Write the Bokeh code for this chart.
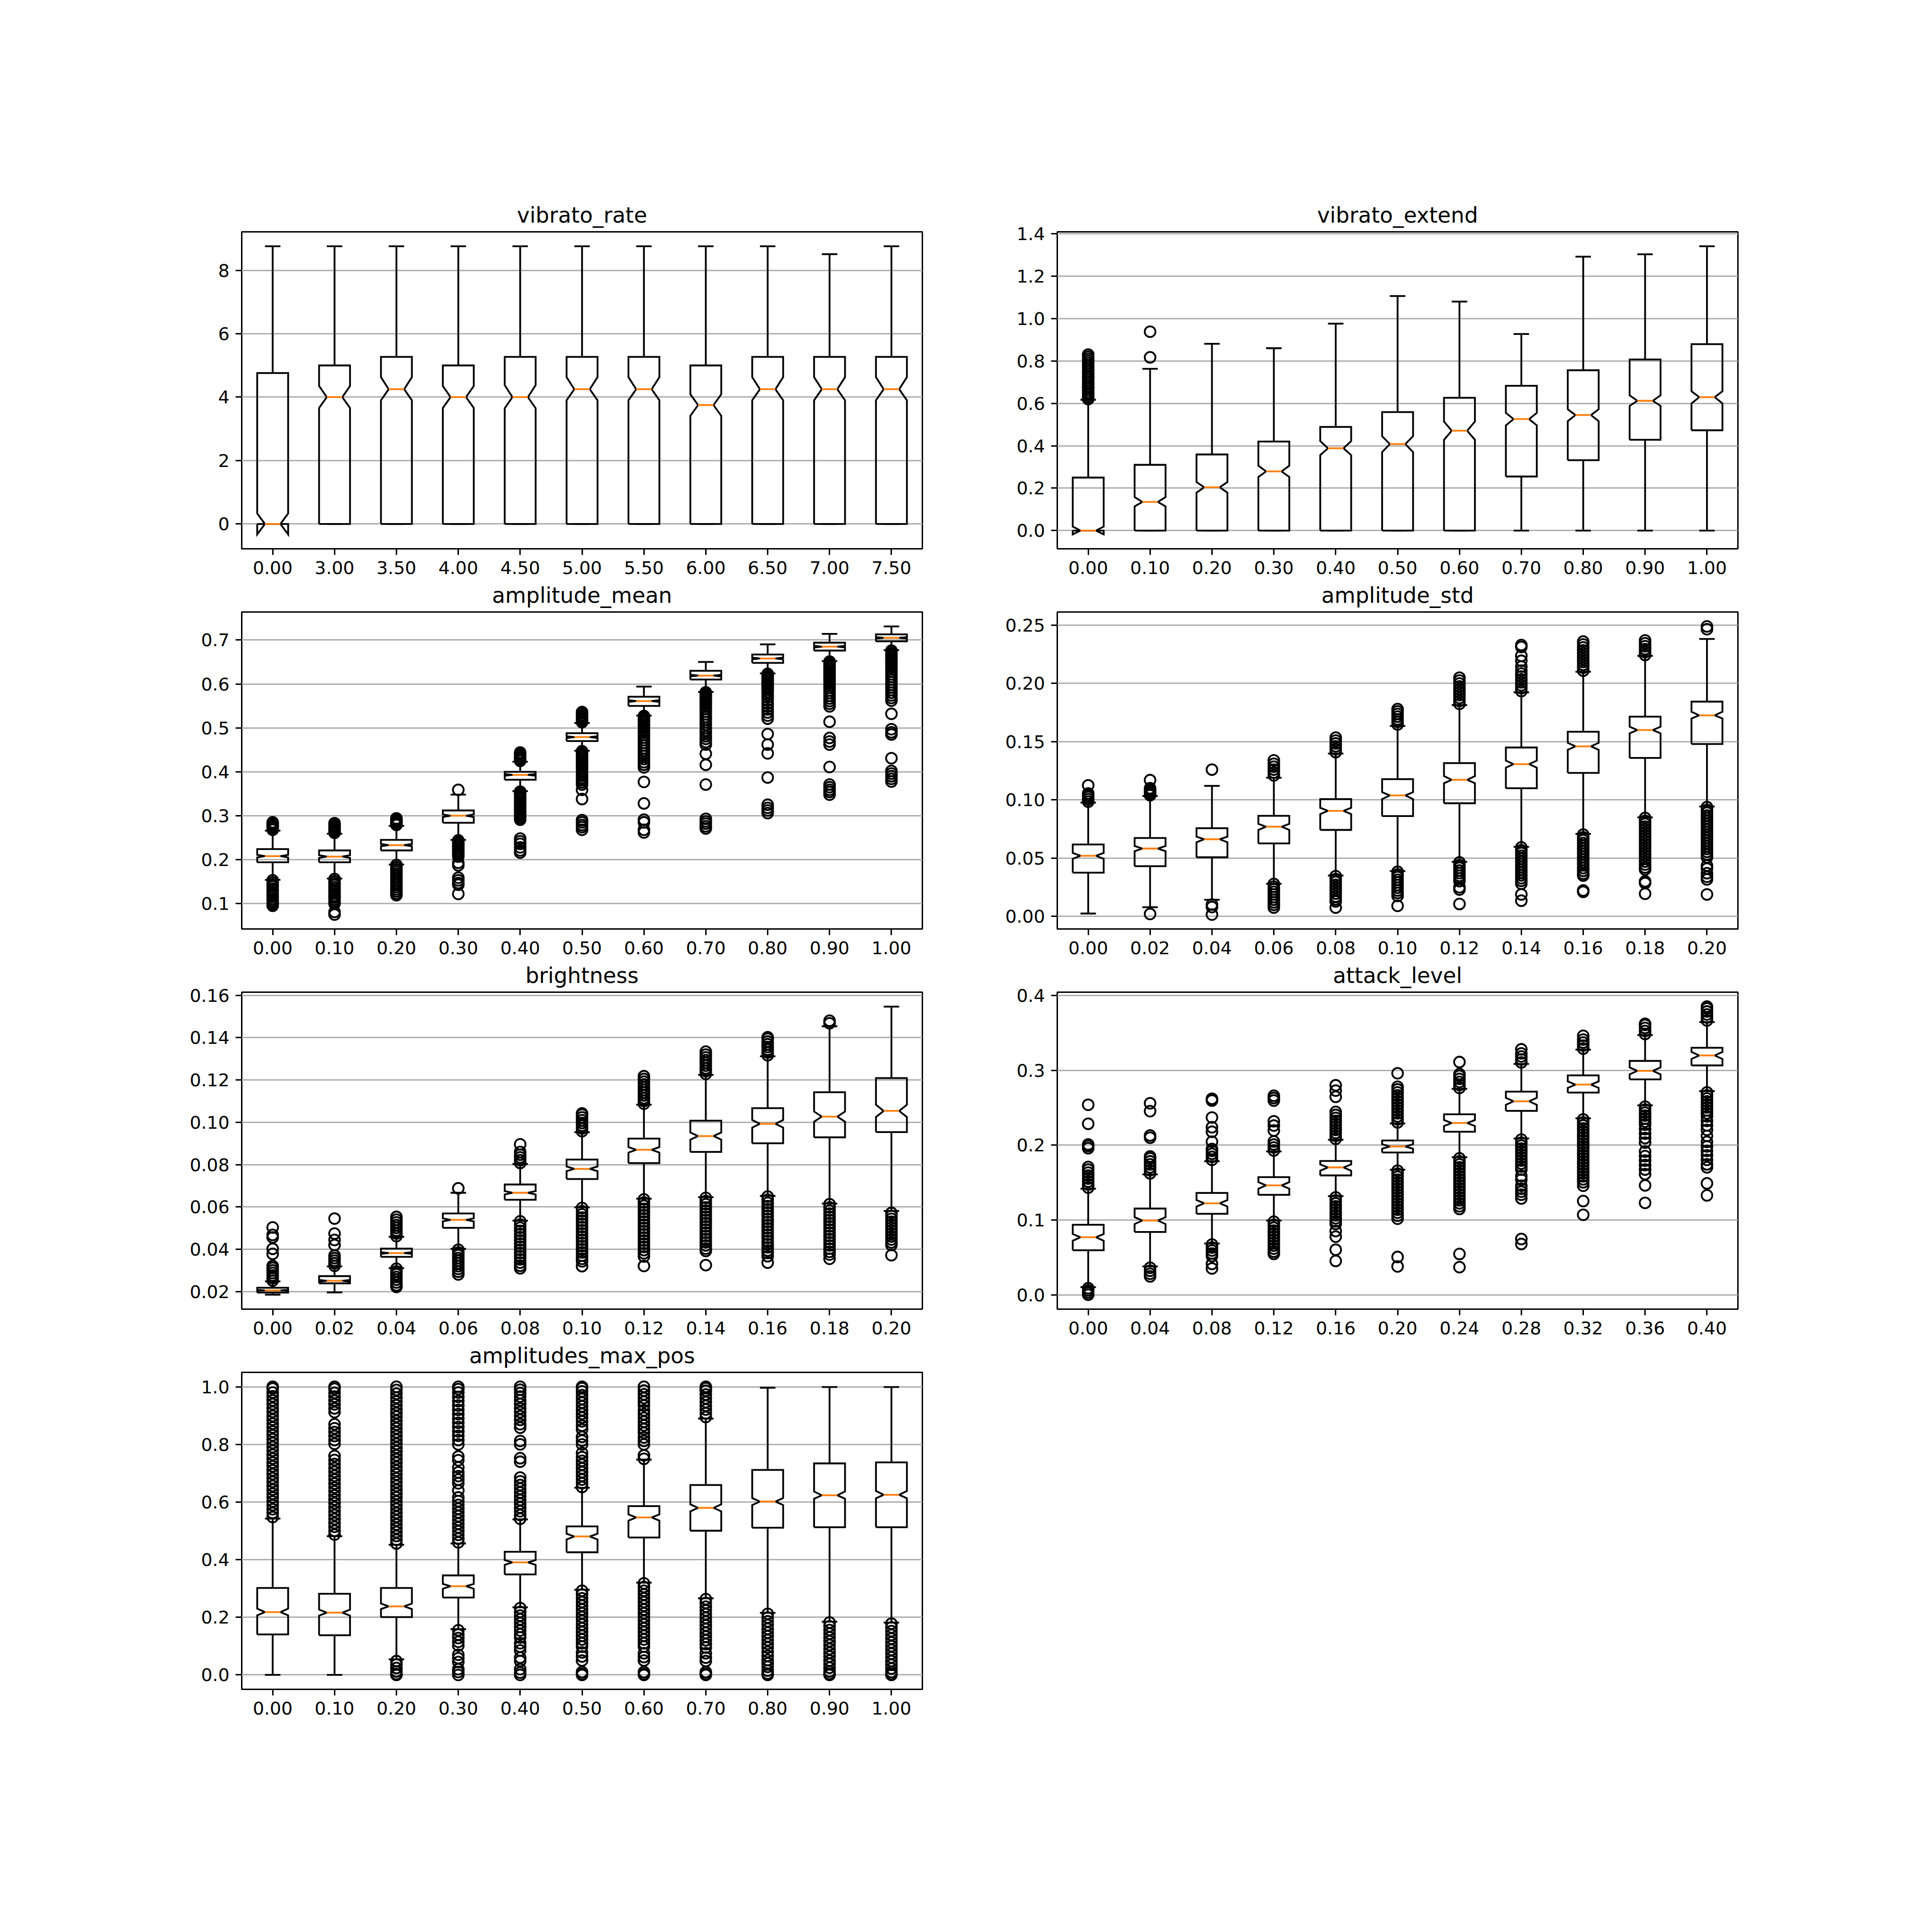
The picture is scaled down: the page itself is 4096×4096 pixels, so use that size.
from bokeh.plotting import figure
from bokeh.layouts import column, row, Spacer
from bokeh.models import FixedTicker, PrintfTickFormatter, Range1d
from bokeh.embed import file_html
from bokeh.resources import INLINE

# ---------------- data ----------------
# 1. vibrato_rate
rate_labels = ["0.00", "3.00", "3.50", "4.00", "4.50", "5.00", "5.50", "6.00", "6.50", "7.00", "7.50"]
rate_q1 = [0, 0, 0, 0, 0, 0, 0, 0, 0, 0, 0]
rate_med = [0.0, 4.0, 4.25, 4.0, 4.0, 4.25, 4.25, 3.75, 4.25, 4.25, 4.25]
rate_q3 = [4.76, 5.0, 5.27, 5.0, 5.27, 5.27, 5.27, 5.0, 5.27, 5.27, 5.27]
rate_nlo = [-0.33, 3.66, 3.90, 3.66, 3.65, 3.90, 3.90, 3.41, 3.90, 3.90, 3.90]
rate_nhi = [0.33, 4.35, 4.63, 4.35, 4.38, 4.63, 4.63, 4.09, 4.63, 4.63, 4.63]
rate_wlo = [0, 0, 0, 0, 0, 0, 0, 0, 0, 0, 0]
rate_whi = [8.76, 8.76, 8.76, 8.76, 8.76, 8.76, 8.76, 8.76, 8.76, 8.51, 8.76]
rate_fliers = [[], [], [], [], [], [], [], [], [], [], []]
rate_yticks = [0, 2, 4, 6, 8]

# 2. vibrato_extend
ext_labels = ["0.00", "0.10", "0.20", "0.30", "0.40", "0.50", "0.60", "0.70", "0.80", "0.90", "1.00"]
ext_q1 = [0, 0, 0, 0, 0, 0, 0, 0.255, 0.332, 0.428, 0.473]
ext_med = [0.0, 0.135, 0.204, 0.279, 0.388, 0.408, 0.471, 0.526, 0.545, 0.612, 0.629]
ext_q3 = [0.250, 0.310, 0.359, 0.420, 0.489, 0.559, 0.626, 0.683, 0.756, 0.807, 0.879]
ext_nlo = [-0.018, 0.114, 0.179, 0.253, 0.356, 0.370, 0.428, 0.496, 0.516, 0.588, 0.600]
ext_nhi = [0.019, 0.158, 0.229, 0.306, 0.422, 0.445, 0.514, 0.555, 0.572, 0.638, 0.657]
ext_wlo = [0, 0, 0, 0, 0, 0, 0, 0, 0, 0, 0]
ext_whi = [0.617, 0.763, 0.881, 0.860, 0.976, 1.106, 1.080, 0.927, 1.292, 1.303, 1.341]
ext_fliers = [
    [0.62, 0.625, 0.63, 0.64, 0.645, 0.65, 0.66, 0.67, 0.675, 0.68, 0.69, 0.70, 0.71, 0.72, 0.725,
     0.73, 0.74, 0.75, 0.76, 0.77, 0.78, 0.79, 0.80, 0.81, 0.82, 0.83],
    [0.817, 0.938], [], [], [], [], [], [], [], [], []]
ext_yticks = [0.0, 0.2, 0.4, 0.6, 0.8, 1.0, 1.2, 1.4]

# 3. amplitude_mean
am_labels = ["0.00", "0.10", "0.20", "0.30", "0.40", "0.50", "0.60", "0.70", "0.80", "0.90", "1.00"]
am_q1 = [0.194, 0.194, 0.221, 0.284, 0.382, 0.470, 0.550, 0.610, 0.648, 0.676, 0.697]
am_med = [0.208, 0.207, 0.233, 0.300, 0.393, 0.479, 0.561, 0.619, 0.658, 0.685, 0.705]
am_q3 = [0.224, 0.221, 0.245, 0.312, 0.400, 0.488, 0.571, 0.630, 0.667, 0.694, 0.713]
am_nlo = [0.205, 0.204, 0.2305, 0.297, 0.391, 0.477, 0.559, 0.617, 0.656, 0.683, 0.7035]
am_nhi = [0.211, 0.210, 0.2355, 0.303, 0.395, 0.481, 0.563, 0.621, 0.660, 0.687, 0.7065]
am_wlo = [0.154, 0.157, 0.189, 0.245, 0.356, 0.448, 0.528, 0.582, 0.624, 0.652, 0.677]
am_whi = [0.266, 0.259, 0.277, 0.348, 0.423, 0.511, 0.594, 0.650, 0.690, 0.714, 0.731]
am_fliers = [
    [0.268, 0.271, 0.273, 0.275, 0.277, 0.279, 0.281, 0.283, 0.285,
     0.153, 0.148, 0.143, 0.139, 0.134, 0.130, 0.125, 0.120, 0.116, 0.111, 0.107, 0.103, 0.099, 0.095],
    [0.261, 0.264, 0.267, 0.270, 0.273, 0.276, 0.279, 0.283,
     0.156, 0.151, 0.146, 0.142, 0.137, 0.132, 0.128, 0.123, 0.118, 0.114, 0.109, 0.104, 0.100, 0.081, 0.075],
    [0.279, 0.282, 0.285, 0.288, 0.291, 0.294,
     0.188, 0.183, 0.178, 0.173, 0.168, 0.163, 0.158, 0.153, 0.148, 0.143, 0.138, 0.133, 0.128, 0.123, 0.119],
    [0.359, 0.244, 0.240, 0.236, 0.232, 0.228, 0.224, 0.220, 0.216, 0.212, 0.207, 0.193, 0.187,
     0.159, 0.153, 0.147, 0.143, 0.122],
    [0.425, 0.428, 0.431, 0.434, 0.437, 0.441, 0.444,
     0.355, 0.351, 0.347, 0.343, 0.339, 0.335, 0.331, 0.327, 0.323, 0.319, 0.315, 0.311, 0.307, 0.303,
     0.299, 0.295, 0.291, 0.248, 0.242, 0.236, 0.228, 0.221, 0.216],
    [0.513, 0.517, 0.521, 0.525, 0.529, 0.533, 0.536,
     0.447, 0.443, 0.439, 0.435, 0.431, 0.427, 0.423, 0.419, 0.415, 0.411, 0.406, 0.401, 0.396, 0.391,
     0.386, 0.381, 0.376, 0.371, 0.359, 0.338, 0.290, 0.285, 0.279, 0.274, 0.268],
    [0.527, 0.523, 0.519, 0.515, 0.511, 0.507, 0.503, 0.499, 0.494, 0.489, 0.484, 0.478, 0.472, 0.466,
     0.460, 0.454, 0.448, 0.442, 0.436, 0.429, 0.422, 0.416, 0.410, 0.377, 0.328, 0.291, 0.285, 0.268, 0.262],
    [0.581, 0.577, 0.573, 0.569, 0.565, 0.561, 0.557, 0.553, 0.548, 0.543, 0.537, 0.531, 0.525, 0.519,
     0.513, 0.507, 0.500, 0.494, 0.488, 0.481, 0.475, 0.468, 0.462, 0.441, 0.416, 0.371,
     0.293, 0.287, 0.282, 0.276, 0.271],
    [0.623, 0.619, 0.615, 0.611, 0.607, 0.603, 0.599, 0.595, 0.591, 0.587, 0.582, 0.576, 0.570, 0.563,
     0.556, 0.549, 0.542, 0.535, 0.528, 0.521, 0.486, 0.462, 0.442, 0.387, 0.325, 0.318, 0.312, 0.306],
    [0.651, 0.647, 0.643, 0.639, 0.635, 0.631, 0.627, 0.623, 0.619, 0.615, 0.611, 0.606, 0.601, 0.596,
     0.591, 0.585, 0.579, 0.573, 0.567, 0.561, 0.555, 0.549, 0.514, 0.477, 0.469, 0.462, 0.411,
     0.371, 0.365, 0.359, 0.354, 0.348],
    [0.676, 0.672, 0.668, 0.664, 0.660, 0.656, 0.652, 0.648, 0.643, 0.638, 0.633, 0.628, 0.622, 0.616,
     0.610, 0.604, 0.598, 0.592, 0.586, 0.580, 0.574, 0.568, 0.562, 0.532, 0.497, 0.490, 0.485, 0.431,
     0.402, 0.396, 0.390, 0.384, 0.378]]
am_yticks = [0.1, 0.2, 0.3, 0.4, 0.5, 0.6, 0.7]

# 4. amplitude_std
as_labels = ["0.00", "0.02", "0.04", "0.06", "0.08", "0.10", "0.12", "0.14", "0.16", "0.18", "0.20"]
as_q1 = [0.0375, 0.0431, 0.0507, 0.0626, 0.0742, 0.0861, 0.0971, 0.1100, 0.1232, 0.1360, 0.1480]
as_med = [0.0520, 0.0582, 0.0662, 0.0770, 0.0906, 0.1038, 0.1173, 0.1307, 0.1460, 0.1600, 0.1726]
as_q3 = [0.0617, 0.0673, 0.0757, 0.0863, 0.1007, 0.1178, 0.1316, 0.1450, 0.1585, 0.1715, 0.1844]
as_nlo = [0.0494, 0.0559, 0.0636, 0.0742, 0.0878, 0.1007, 0.1143, 0.1277, 0.1430, 0.1572, 0.1699]
as_nhi = [0.0544, 0.0604, 0.0684, 0.0794, 0.0932, 0.1066, 0.1204, 0.1337, 0.1490, 0.1628, 0.1757]
as_wlo = [0.0024, 0.0078, 0.0142, 0.0280, 0.0350, 0.0388, 0.0468, 0.0597, 0.0708, 0.0850, 0.0943]
as_whi = [0.0977, 0.1033, 0.1120, 0.1190, 0.1398, 0.1635, 0.1814, 0.1924, 0.2101, 0.2237, 0.2382]
as_fliers = [
    [0.0985, 0.1005, 0.1025, 0.104, 0.1055, 0.1125],
    [0.104, 0.1055, 0.107, 0.1085, 0.110, 0.117, 0.002],
    [0.126, 0.0101, 0.008, 0.0015],
    [0.121, 0.1235, 0.126, 0.1285, 0.131, 0.134,
     0.0278, 0.0255, 0.0232, 0.021, 0.0188, 0.0165, 0.0142, 0.012, 0.0098, 0.0075],
    [0.141, 0.1435, 0.146, 0.1485, 0.151, 0.1535,
     0.0345, 0.032, 0.0295, 0.027, 0.0245, 0.022, 0.0195, 0.017, 0.0145, 0.0128, 0.0075],
    [0.1648, 0.167, 0.1692, 0.1715, 0.1738, 0.176, 0.178,
     0.0383, 0.036, 0.0337, 0.0314, 0.0291, 0.0268, 0.0245, 0.0222, 0.020, 0.0175, 0.009],
    [0.1825, 0.185, 0.1875, 0.190, 0.1925, 0.195, 0.1975, 0.200, 0.2025, 0.205,
     0.0463, 0.044, 0.0417, 0.0394, 0.0371, 0.0348, 0.0325, 0.0302, 0.025, 0.023, 0.0106],
    [0.1935, 0.196, 0.1985, 0.201, 0.2035, 0.206, 0.2085, 0.211, 0.2145, 0.2195, 0.2237, 0.2313, 0.233,
     0.0592, 0.0568, 0.0544, 0.052, 0.0496, 0.0472, 0.0448, 0.0424, 0.040, 0.0376, 0.0352, 0.0328,
     0.0305, 0.028, 0.0188, 0.0134],
    [0.211, 0.2135, 0.216, 0.2185, 0.221, 0.2235, 0.226, 0.2285, 0.231, 0.2335, 0.236,
     0.0702, 0.0678, 0.0654, 0.063, 0.0606, 0.0582, 0.0558, 0.0534, 0.051, 0.0486, 0.0462, 0.0438,
     0.0414, 0.039, 0.0366, 0.035, 0.0222, 0.021],
    [0.2245, 0.227, 0.2295, 0.232, 0.2345, 0.237,
     0.0845, 0.082, 0.0795, 0.077, 0.0745, 0.072, 0.0695, 0.067, 0.0645, 0.062, 0.0595, 0.057, 0.0545,
     0.052, 0.0495, 0.047, 0.0445, 0.042, 0.0402, 0.030, 0.0285, 0.0194],
    [0.2466, 0.249,
     0.0938, 0.0914, 0.089, 0.0866, 0.0842, 0.0818, 0.0794, 0.077, 0.0746, 0.0722, 0.0698, 0.0674,
     0.065, 0.0626, 0.0602, 0.0578, 0.0554, 0.053, 0.0506, 0.0436, 0.041, 0.037, 0.034, 0.0317, 0.0188]]
as_yticks = [0.0, 0.05, 0.10, 0.15, 0.20, 0.25]

# 5. brightness
br_labels = ["0.00", "0.02", "0.04", "0.06", "0.08", "0.10", "0.12", "0.14", "0.16", "0.18", "0.20"]
br_q1 = [0.0195, 0.0239, 0.0364, 0.0501, 0.0634, 0.0732, 0.0807, 0.0860, 0.0901, 0.0929, 0.0954]
br_med = [0.0206, 0.0251, 0.0382, 0.0539, 0.0667, 0.0780, 0.0870, 0.0935, 0.0993, 0.1027, 0.1054]
br_q3 = [0.0218, 0.0273, 0.0403, 0.0569, 0.0706, 0.0824, 0.0923, 0.1008, 0.1067, 0.1142, 0.1209]
br_nlo = [0.0204, 0.0247, 0.0378, 0.0532, 0.0659, 0.0769, 0.0857, 0.0918, 0.0975, 0.1003, 0.1025]
br_nhi = [0.0208, 0.0255, 0.0386, 0.0546, 0.0675, 0.0791, 0.0883, 0.0952, 0.1011, 0.1051, 0.1083]
br_wlo = [0.0185, 0.0196, 0.0311, 0.0402, 0.0535, 0.0598, 0.0639, 0.0646, 0.0652, 0.0616, 0.0581]
br_whi = [0.0248, 0.0319, 0.0459, 0.0667, 0.0803, 0.0953, 0.1083, 0.1224, 0.1312, 0.1454, 0.1547]
br_fliers = [
    [0.0252, 0.0264, 0.0276, 0.0288, 0.0300, 0.0312, 0.0321, 0.0378, 0.0402, 0.0456, 0.0468, 0.0503],
    [0.0322, 0.0334, 0.0346, 0.0358, 0.037, 0.042, 0.0444, 0.0474, 0.0545],
    [0.0462, 0.0475, 0.0488, 0.0501, 0.0514, 0.0527, 0.054, 0.0553,
     0.0308, 0.0295, 0.0282, 0.0269, 0.0256, 0.0243, 0.023, 0.0222],
    [0.0688, 0.0398, 0.0385, 0.0372, 0.0359, 0.0346, 0.0333, 0.032, 0.0307, 0.0294, 0.0281],
    [0.0808, 0.0821, 0.0834, 0.0847, 0.086, 0.0896,
     0.0532, 0.0517, 0.0502, 0.0487, 0.0472, 0.0457, 0.0442, 0.0427, 0.0412, 0.0397, 0.0382, 0.0367,
     0.0352, 0.0337, 0.0322, 0.031],
    [0.0958, 0.0971, 0.0984, 0.0997, 0.101, 0.1023, 0.1036, 0.1042,
     0.0595, 0.058, 0.0565, 0.055, 0.0535, 0.052, 0.0505, 0.049, 0.0475, 0.046, 0.0445, 0.043, 0.0415,
     0.04, 0.0385, 0.037, 0.0355, 0.0343, 0.032],
    [0.1088, 0.1101, 0.1114, 0.1127, 0.114, 0.1153, 0.1166, 0.1179, 0.1192, 0.1205, 0.1218,
     0.0636, 0.0621, 0.0606, 0.0591, 0.0576, 0.0561, 0.0546, 0.0531, 0.0516, 0.0501, 0.0486, 0.0471,
     0.0456, 0.0441, 0.0426, 0.0411, 0.0396, 0.0381, 0.0366, 0.0321],
    [0.1229, 0.1242, 0.1255, 0.1268, 0.1281, 0.1294, 0.1307, 0.132, 0.1334,
     0.0643, 0.0628, 0.0613, 0.0598, 0.0583, 0.0568, 0.0553, 0.0538, 0.0523, 0.0508, 0.0493, 0.0478,
     0.0463, 0.0448, 0.0433, 0.0418, 0.0403, 0.0392, 0.0325],
    [0.1317, 0.133, 0.1343, 0.1356, 0.1369, 0.1382, 0.1395, 0.1402,
     0.0649, 0.0634, 0.0619, 0.0604, 0.0589, 0.0574, 0.0559, 0.0544, 0.0529, 0.0514, 0.0499, 0.0484,
     0.0469, 0.0454, 0.0439, 0.0424, 0.0409, 0.0394, 0.0382, 0.0367, 0.0337],
    [0.1468, 0.148,
     0.0613, 0.0598, 0.0583, 0.0568, 0.0553, 0.0538, 0.0523, 0.0508, 0.0493, 0.0478, 0.0463, 0.0448,
     0.0433, 0.0418, 0.0403, 0.0388, 0.0375, 0.0355],
    [0.0572, 0.0558, 0.0544, 0.053, 0.0516, 0.0502, 0.0488, 0.0474, 0.046, 0.0446, 0.0432, 0.042, 0.0372]]
br_yticks = [0.02, 0.04, 0.06, 0.08, 0.10, 0.12, 0.14, 0.16]

# 6. attack_level
al_labels = ["0.00", "0.04", "0.08", "0.12", "0.16", "0.20", "0.24", "0.28", "0.32", "0.36", "0.40"]
al_q1 = [0.0599, 0.0842, 0.1085, 0.1338, 0.1597, 0.1903, 0.2180, 0.2459, 0.2702, 0.2879, 0.3065]
al_med = [0.0772, 0.0995, 0.1225, 0.1464, 0.1704, 0.1983, 0.2296, 0.2586, 0.2809, 0.2992, 0.3198]
al_q3 = [0.0938, 0.1155, 0.1364, 0.1574, 0.1790, 0.2063, 0.2413, 0.2715, 0.2932, 0.3125, 0.3301]
al_nlo = [0.0725, 0.0948, 0.1181, 0.1420, 0.1660, 0.1953, 0.2256, 0.2539, 0.2765, 0.2945, 0.3151]
al_nhi = [0.0815, 0.1040, 0.1268, 0.1507, 0.1744, 0.2013, 0.2336, 0.2632, 0.2852, 0.3038, 0.3245]
al_wlo = [0.0106, 0.0383, 0.0689, 0.0995, 0.1321, 0.1674, 0.1840, 0.2090, 0.2360, 0.2532, 0.2722]
al_whi = [0.1420, 0.1610, 0.1787, 0.1917, 0.2073, 0.2290, 0.2752, 0.3085, 0.3275, 0.3470, 0.3644]
al_fliers = [
    [0.1435, 0.1475, 0.1515, 0.1555, 0.1595, 0.1635, 0.1675, 0.171, 0.196, 0.199, 0.201, 0.2286, 0.254,
     0.0092, 0.0062, 0.0032, 0.0005],
    [0.1625, 0.1665, 0.1705, 0.1745, 0.1785, 0.1825, 0.185, 0.21, 0.213, 0.2455, 0.256,
     0.0365, 0.0325, 0.0285, 0.025],
    [0.1805, 0.1845, 0.1885, 0.1925, 0.195, 0.2047, 0.218, 0.224, 0.237, 0.2596, 0.262,
     0.0675, 0.0635, 0.0595, 0.0555, 0.052, 0.0416, 0.0356],
    [0.193, 0.197, 0.201, 0.205, 0.2196, 0.2263, 0.232, 0.2596, 0.263, 0.266,
     0.098, 0.094, 0.090, 0.086, 0.082, 0.078, 0.074, 0.070, 0.066, 0.062, 0.058, 0.055],
    [0.2085, 0.2125, 0.2165, 0.2205, 0.2245, 0.2285, 0.2325, 0.2365, 0.2405, 0.2445, 0.2646, 0.2729, 0.280,
     0.1305, 0.1265, 0.1225, 0.1185, 0.1145, 0.1105, 0.1065, 0.1025, 0.0985, 0.095, 0.0855, 0.078,
     0.0606, 0.0456],
    [0.2305, 0.2345, 0.2385, 0.2425, 0.2465, 0.2505, 0.2545, 0.2585, 0.2625, 0.2665, 0.2705, 0.2745,
     0.278, 0.296,
     0.166, 0.162, 0.158, 0.154, 0.150, 0.146, 0.142, 0.138, 0.134, 0.130, 0.126, 0.122, 0.118, 0.114,
     0.110, 0.106, 0.102, 0.0509, 0.0383],
    [0.2765, 0.2805, 0.2845, 0.2885, 0.2925, 0.295, 0.311,
     0.1825, 0.1785, 0.1745, 0.1705, 0.1665, 0.1625, 0.1585, 0.1545, 0.1505, 0.1465, 0.1425, 0.1385,
     0.1345, 0.1305, 0.1265, 0.1225, 0.1185, 0.115, 0.0549, 0.0373],
    [0.3105, 0.3145, 0.3185, 0.3225, 0.328,
     0.2075, 0.2035, 0.1995, 0.1955, 0.1915, 0.1875, 0.1835, 0.1795, 0.1755, 0.1715, 0.1675, 0.159,
     0.154, 0.146, 0.142, 0.138, 0.134, 0.129, 0.0749, 0.0682],
    [0.329, 0.333, 0.337, 0.341, 0.346,
     0.2345, 0.2305, 0.2265, 0.2225, 0.2185, 0.2145, 0.2105, 0.2065, 0.2025, 0.1985, 0.1945, 0.1905,
     0.1865, 0.1825, 0.1785, 0.1745, 0.1705, 0.1665, 0.1625, 0.1585, 0.1545, 0.1505, 0.146, 0.1255, 0.1072],
    [0.3485, 0.3525, 0.3565, 0.3605, 0.362,
     0.2515, 0.2475, 0.2435, 0.2395, 0.2355, 0.2315, 0.2275, 0.2215, 0.2155, 0.2095, 0.2035, 0.1915,
     0.1855, 0.1795, 0.1735, 0.1675, 0.1615, 0.1464, 0.1231],
    [0.3665, 0.3705, 0.3745, 0.3785, 0.3825, 0.385,
     0.2705, 0.2665, 0.2625, 0.2585, 0.2545, 0.2505, 0.2465, 0.2425, 0.2385, 0.2325, 0.2265, 0.2205,
     0.2125, 0.2045, 0.1985, 0.1925, 0.1865, 0.1805, 0.1745, 0.1705, 0.1491, 0.1331]]
al_yticks = [0.0, 0.1, 0.2, 0.3, 0.4]

# 7. amplitudes_max_pos
mp_labels = ["0.00", "0.10", "0.20", "0.30", "0.40", "0.50", "0.60", "0.70", "0.80", "0.90", "1.00"]
mp_q1 = [0.1404, 0.1378, 0.2005, 0.2685, 0.3487, 0.4255, 0.4769, 0.5004, 0.5109, 0.5126, 0.5126]
mp_med = [0.2180, 0.2162, 0.2380, 0.3078, 0.3906, 0.4804, 0.5466, 0.5798, 0.6016, 0.6234, 0.6251]
mp_q3 = [0.3017, 0.2816, 0.3017, 0.3453, 0.4272, 0.5153, 0.5859, 0.6591, 0.7114, 0.7341, 0.7376]
mp_nlo = [0.2066, 0.2058, 0.2284, 0.2990, 0.3819, 0.4700, 0.5353, 0.5676, 0.5894, 0.6112, 0.6129]
mp_nhi = [0.2300, 0.2267, 0.2476, 0.3156, 0.3984, 0.4900, 0.5570, 0.5920, 0.6138, 0.6364, 0.6382]
mp_wlo = [0.0, 0.0, 0.054, 0.1587, 0.2345, 0.2956, 0.3200, 0.2659, 0.2153, 0.1848, 0.1813]
mp_whi = [0.5423, 0.4813, 0.4516, 0.4560, 0.5397, 0.6495, 0.7472, 0.8893, 0.9965, 0.999, 0.999]
mp_fliers = [
    [0.548, 0.562, 0.575, 0.589, 0.602, 0.616, 0.629, 0.643, 0.656, 0.670, 0.683, 0.697, 0.710, 0.724,
     0.737, 0.751, 0.764, 0.778, 0.791, 0.805, 0.818, 0.832, 0.845, 0.859, 0.872, 0.886, 0.899, 0.913,
     0.926, 0.940, 0.953, 0.967, 0.980, 0.994, 1.0],
    [0.487, 0.50, 0.514, 0.527, 0.541, 0.555, 0.568, 0.582, 0.596, 0.609, 0.623, 0.637, 0.650, 0.664,
     0.678, 0.691, 0.705, 0.718, 0.732, 0.746, 0.760, 0.802, 0.815, 0.829, 0.843, 0.856, 0.87,
     0.912, 0.925, 0.939, 0.952, 0.966, 0.979, 0.993, 1.0],
    [0.456, 0.469, 0.482, 0.496, 0.509, 0.522, 0.536, 0.549, 0.562, 0.576, 0.589, 0.602, 0.616, 0.629,
     0.642, 0.656, 0.669, 0.682, 0.696, 0.709, 0.722, 0.736, 0.749, 0.762, 0.776, 0.789, 0.802, 0.816,
     0.829, 0.842, 0.856, 0.869, 0.882, 0.896, 0.909, 0.922, 0.936, 0.949, 0.962, 0.976, 0.989, 1.0,
     0.048, 0.036, 0.024, 0.012, 0.003, 0.0],
    [0.46, 0.473, 0.486, 0.499, 0.512, 0.525, 0.538, 0.551, 0.564, 0.577, 0.59, 0.603, 0.616, 0.64,
     0.665, 0.678, 0.69, 0.703, 0.72, 0.745, 0.758, 0.80, 0.815, 0.83, 0.845, 0.86, 0.875, 0.89, 0.905,
     0.92, 0.935, 0.95, 0.965, 0.98, 0.992, 1.0,
     0.155, 0.14, 0.128, 0.115, 0.102, 0.07, 0.058, 0.045, 0.02, 0.01, 0.0],
    [0.542, 0.555, 0.568, 0.581, 0.594, 0.607, 0.62, 0.633, 0.646, 0.659, 0.672, 0.685, 0.74, 0.752,
     0.80, 0.812, 0.858, 0.87, 0.885, 0.898, 0.912, 0.925, 0.94, 0.953, 0.966, 0.978, 0.99, 1.0,
     0.232, 0.219, 0.206, 0.193, 0.18, 0.167, 0.154, 0.141, 0.13, 0.11, 0.098, 0.085, 0.06, 0.048,
     0.02, 0.008, 0.0],
    [0.652, 0.665, 0.678, 0.691, 0.704, 0.717, 0.73, 0.743, 0.756, 0.77, 0.80, 0.813, 0.826, 0.852,
     0.865, 0.88, 0.893, 0.906, 0.919, 0.932, 0.945, 0.958, 0.971, 0.984, 0.995, 1.0,
     0.292, 0.279, 0.266, 0.253, 0.24, 0.227, 0.214, 0.201, 0.188, 0.175, 0.162, 0.149, 0.136, 0.123,
     0.11, 0.098, 0.078, 0.064, 0.05, 0.01, 0.003, 0.0],
    [0.75, 0.762, 0.80, 0.812, 0.824, 0.84, 0.853, 0.866, 0.879, 0.892, 0.905, 0.918, 0.935, 0.948,
     0.961, 0.974, 0.987, 1.0,
     0.318, 0.305, 0.292, 0.279, 0.266, 0.253, 0.24, 0.227, 0.214, 0.201, 0.188, 0.175, 0.162, 0.149,
     0.136, 0.123, 0.11, 0.098, 0.075, 0.062, 0.05, 0.01, 0.003, 0.0],
    [0.895, 0.908, 0.921, 0.934, 0.947, 0.96, 0.973, 0.986, 0.995, 1.0,
     0.263, 0.25, 0.237, 0.224, 0.211, 0.198, 0.185, 0.172, 0.159, 0.146, 0.133, 0.12, 0.107, 0.095,
     0.075, 0.06, 0.048, 0.01, 0.003, 0.0],
    [0.212, 0.199, 0.186, 0.173, 0.16, 0.147, 0.134, 0.121, 0.108, 0.095, 0.08, 0.066, 0.052, 0.04,
     0.028, 0.015, 0.005, 0.0],
    [0.182, 0.169, 0.156, 0.143, 0.13, 0.117, 0.104, 0.09, 0.077, 0.064, 0.05, 0.038, 0.025, 0.012,
     0.004, 0.0],
    [0.178, 0.165, 0.152, 0.139, 0.126, 0.113, 0.1, 0.087, 0.074, 0.061, 0.048, 0.035, 0.022, 0.01,
     0.003, 0.0]]
mp_yticks = [0.0, 0.2, 0.4, 0.6, 0.8, 1.0]

# ---------------- styling (reference size x 0.910) ----------------
PT = 300 / 72 * 0.91          # pixels per point
FONT = "DejaVu Sans"
FW, FH = 1443, 672            # frame size
GAP = 134                     # space between stacked frames
TOP_B, BOT_B = 90, 72         # borders above (title) and below (x axis)
OVERLAP = TOP_B + BOT_B - GAP # rows overlap so frames keep the reference spacing
LW = 1.0 * PT
THIN = 0.8 * PT


def make_panel(title, labels, q1, med, q3, nlo, nhi, wlo, whi, fliers, yticks, yfmt, bl, br):
    n = len(labels)
    pos = list(range(1, n + 1))
    width = 0.5
    bx, by = [], []
    for i in range(n):
        c = pos[i]
        L, R = c - width / 2, c + width / 2
        CL, CR = c - width / 4, c + width / 4
        bx.append([L, R, R, CR, R, R, L, L, CL, L, L])
        by.append([q1[i], q1[i], nlo[i], med[i], nhi[i], q3[i], q3[i], nhi[i], med[i], nlo[i], q1[i]])
    fx, fy = [], []
    for i in range(n):
        for v in fliers[i]:
            fx.append(pos[i])
            fy.append(v)
    allv = list(wlo) + list(whi) + list(nlo) + list(nhi) + list(q1) + list(q3) + fy
    lo, hi = min(allv), max(allv)
    pad = (hi - lo) * 0.05

    p = figure(frame_width=FW, frame_height=FH, output_backend="svg", toolbar_location=None,
               x_range=Range1d(0.5, n + 0.5), y_range=Range1d(lo - pad, hi + pad),
               min_border_left=bl, min_border_right=br, min_border_top=TOP_B, min_border_bottom=BOT_B,
               title=title)
    p.background_fill_color = "white"
    p.border_fill_color = None
    p.outline_line_color = "black"
    p.outline_line_width = THIN
    p.title.align = "center"
    p.title.text_font = FONT
    p.title.text_font_size = f"{12 * PT:.1f}px"
    p.title.text_font_style = "normal"
    p.title.text_color = "black"
    p.title.standoff = 17

    p.xgrid.visible = False
    p.ygrid.grid_line_color = "#b0b0b0"
    p.ygrid.grid_line_width = THIN

    p.xaxis.ticker = FixedTicker(ticks=pos)
    p.xaxis.major_label_overrides = {pos[i]: labels[i] for i in range(n)}
    p.yaxis.ticker = FixedTicker(ticks=yticks)
    p.yaxis.formatter = PrintfTickFormatter(format=yfmt)
    for ax in (p.xaxis[0], p.yaxis[0]):
        ax.axis_line_color = None
        ax.major_tick_line_color = "black"
        ax.major_tick_line_width = THIN
        ax.major_tick_out = round(3.5 * PT)
        ax.major_tick_in = 0
        ax.minor_tick_line_color = None
        ax.major_label_standoff = round(3.5 * PT)
        ax.major_label_text_font = FONT
        ax.major_label_text_font_size = f"{10 * PT:.1f}px"
        ax.major_label_text_color = "black"

    # whiskers
    p.segment(x0=pos, y0=q1, x1=pos, y1=wlo, line_color="black", line_width=LW)
    p.segment(x0=pos, y0=q3, x1=pos, y1=whi, line_color="black", line_width=LW)
    # caps
    cl = [c - width / 4 for c in pos]
    cr = [c + width / 4 for c in pos]
    p.segment(x0=cl, y0=wlo, x1=cr, y1=wlo, line_color="black", line_width=LW)
    p.segment(x0=cl, y0=whi, x1=cr, y1=whi, line_color="black", line_width=LW)
    # boxes
    p.multi_line(xs=bx, ys=by, line_color="black", line_width=LW, line_join="miter")
    # medians
    p.segment(x0=cl, y0=med, x1=cr, y1=med, line_color="#ff7f0e", line_width=LW)
    # fliers
    if fx:
        p.scatter(x=fx, y=fy, marker="circle", size=6 * PT, fill_color=None,
                  line_color="black", line_width=LW)
    return p


L1, R1 = 512, 10
L2, R2 = 276, 40

p1 = make_panel("vibrato_rate", rate_labels, rate_q1, rate_med, rate_q3, rate_nlo, rate_nhi,
                rate_wlo, rate_whi, rate_fliers, rate_yticks, "%.0f", L1, R1)
p2 = make_panel("vibrato_extend", ext_labels, ext_q1, ext_med, ext_q3, ext_nlo, ext_nhi,
                ext_wlo, ext_whi, ext_fliers, ext_yticks, "%.1f", L2, R2)
p3 = make_panel("amplitude_mean", am_labels, am_q1, am_med, am_q3, am_nlo, am_nhi,
                am_wlo, am_whi, am_fliers, am_yticks, "%.1f", L1, R1)
p4 = make_panel("amplitude_std", as_labels, as_q1, as_med, as_q3, as_nlo, as_nhi,
                as_wlo, as_whi, as_fliers, as_yticks, "%.2f", L2, R2)
p5 = make_panel("brightness", br_labels, br_q1, br_med, br_q3, br_nlo, br_nhi,
                br_wlo, br_whi, br_fliers, br_yticks, "%.2f", L1, R1)
p6 = make_panel("attack_level", al_labels, al_q1, al_med, al_q3, al_nlo, al_nhi,
                al_wlo, al_whi, al_fliers, al_yticks, "%.1f", L2, R2)
p7 = make_panel("amplitudes_max_pos", mp_labels, mp_q1, mp_med, mp_q3, mp_nlo, mp_nhi,
                mp_wlo, mp_whi, mp_fliers, mp_yticks, "%.1f", L1, R1)

layout = column(
    Spacer(width=4000, height=491 - TOP_B),
    row(p1, p2),
    row(p3, p4, margin=(-OVERLAP, 0, 0, 0)),
    row(p5, p6, margin=(-OVERLAP, 0, 0, 0)),
    row(p7, margin=(-OVERLAP, 0, 0, 0)),
)

open("out.html", "w").write(file_html(layout, INLINE))
